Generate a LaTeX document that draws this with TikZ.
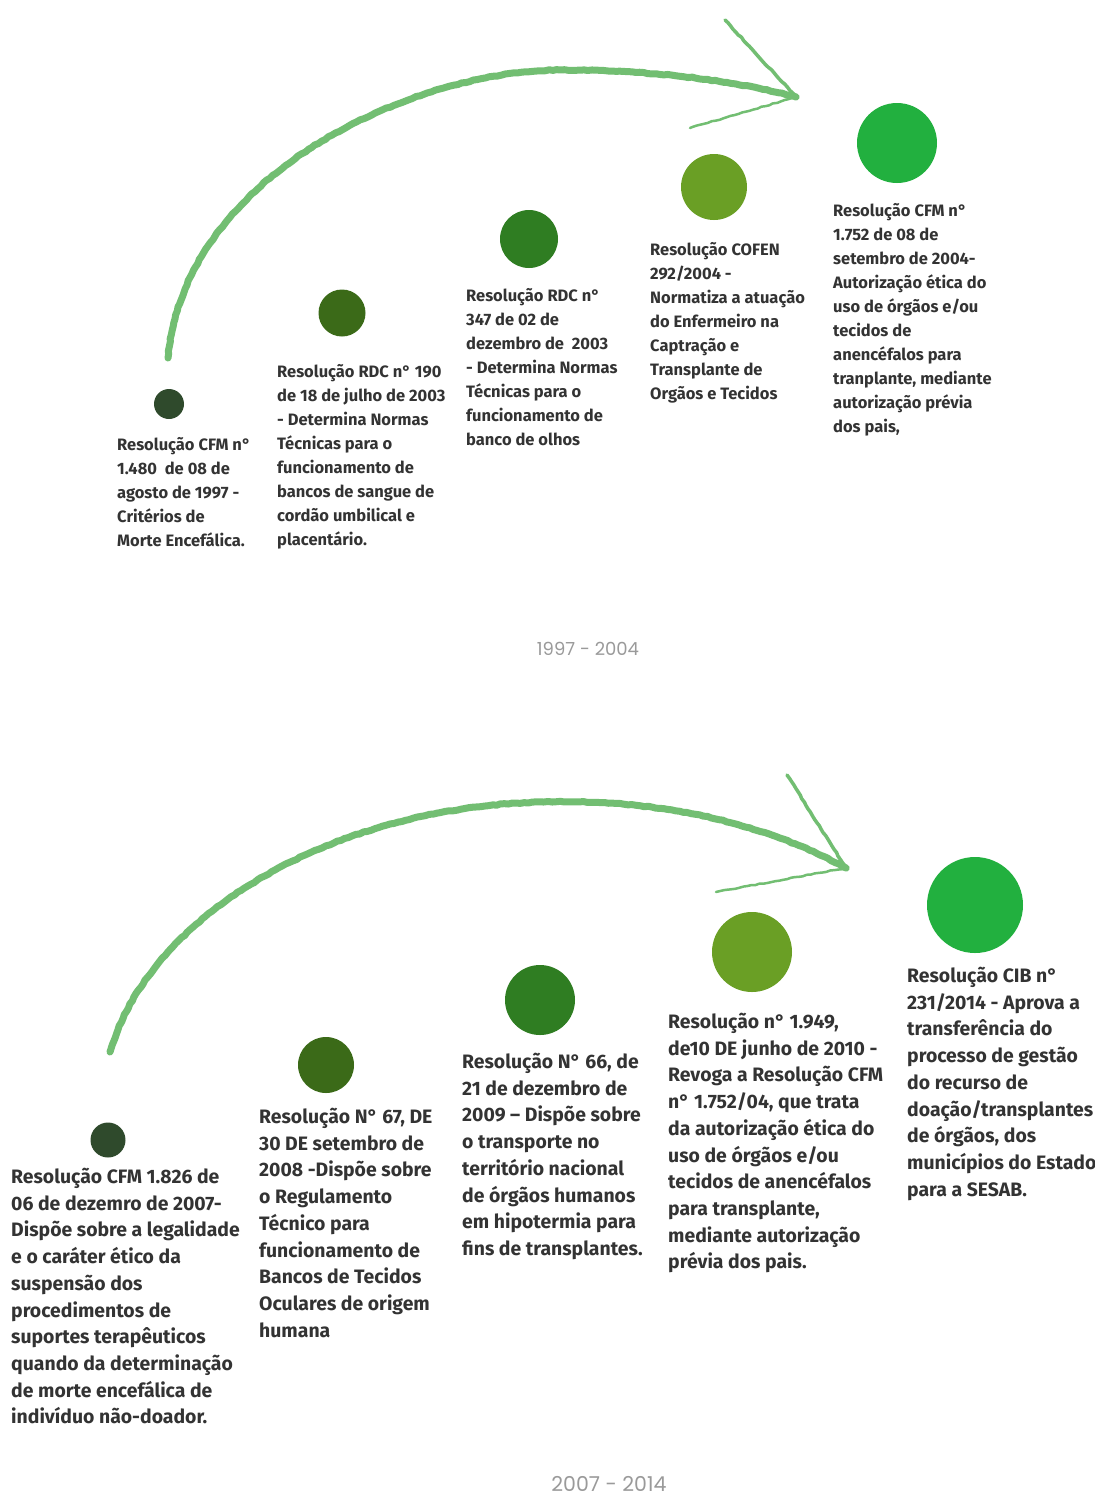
\documentclass[tikz,border=0pt]{standalone}
\usepackage{fontspec}
\setmainfont{Fira Sans}
\newfontfamily\yearfont{Poppins}
\usetikzlibrary{decorations.pathmorphing}
\definecolor{cA}{HTML}{2F4A2C}
\definecolor{cB}{HTML}{3B6A18}
\definecolor{cC}{HTML}{2F7D22}
\definecolor{cD}{HTML}{6A9F25}
\definecolor{cE}{HTML}{22B03F}
\definecolor{arr}{HTML}{72BE72}
\definecolor{txt}{HTML}{333333}
\definecolor{yr}{HTML}{9A9A9A}
\tikzset{
  dot/.style={circle, inner sep=0pt, minimum size=#1, fill=cA},
  toptext/.style={anchor=north west, inner sep=0pt, align=left, text=txt, font=\fontsize{16.5}{24}\selectfont\bfseries},
  bottext/.style={anchor=north west, inner sep=0pt, align=left, text=txt, font=\fontsize{19.4}{26.7}\selectfont\bfseries},
  sketch/.style={draw=arr, line width=#1, line cap=round, line join=round,
    decorate, decoration={random steps, segment length=4pt, amplitude=0.5pt}},
  yearlbl/.style={text=yr, inner sep=0pt, font=\yearfont\fontsize{18}{20}\selectfont}
}
\begin{document}
\begin{tikzpicture}[x=1pt,y=-1pt]
\useasboundingbox[fill=white] (0,0) rectangle (1095,1497);

% ---------- top arrow ----------
\coordinate (ta0) at (168,358);
\coordinate (ta1) at (796,97);
\coordinate (tb1) at (725,20);
\coordinate (tb2) at (690,128);
\draw[sketch=7pt] (ta0) .. controls (185,170) and (420,70) .. (560,70)
   .. controls (660,70) and (740,82) .. (ta1);
\draw[sketch=3.5pt] (tb1) -- (ta1);
\draw[sketch=2.5pt] (ta1) -- (tb2);

% ---------- top circles ----------
\node[dot=30pt, fill=cA] (t1) at (169,404) {};
\node[dot=47pt, fill=cB] (t2) at (342,313) {};
\node[dot=58pt, fill=cC] (t3) at (529,239) {};
\node[dot=66pt, fill=cD] (t4) at (714,187) {};
\node[dot=80pt, fill=cE] (t5) at (897,143) {};

\node[toptext] (tt1) at (117,437) {Resolução CFM n°\\1.480\ \ de 08 de\\agosto de 1997 -\\Critérios de\\Morte Encefálica.};
\node[toptext] (tt2) at (277,364) {Resolução RDC n° 190\\de 18 de julho de 2003\\- Determina Normas\\Técnicas para o\\funcionamento de\\bancos de sangue de\\cordão umbilical e\\placentário.};
\node[toptext] (tt3) at (466,288) {Resolução RDC n°\\347 de 02 de\\dezembro de\ \ 2003\\- Determina Normas\\Técnicas para o\\funcionamento de\\banco de olhos};
\node[toptext] (tt4) at (650,242) {Resolução COFEN\\292/2004 -\\Normatiza a atuação\\do Enfermeiro na\\Captração e\\Transplante de\\Orgãos e Tecidos};
\node[toptext] (tt5) at (833,203) {Resolução CFM n°\\1.752 de 08 de\\setembro de 2004-\\Autorização ética do\\uso de órgãos e/ou\\tecidos de\\anencéfalos para\\tranplante, mediante\\autorização prévia\\dos pais,};

\node[yearlbl] (y1) at (588,649) {1997 - 2004};

% ---------- bottom arrow ----------
\coordinate (ba0) at (110,1052);
\coordinate (ba1) at (846,868);
\coordinate (bb1) at (787,775);
\coordinate (bb2) at (716,892);
\draw[sketch=7pt] (ba0) .. controls (150,915) and (330,808) .. (540,802)
   .. controls (680,798) and (780,832) .. (ba1);
\draw[sketch=3.5pt] (bb1) -- (ba1);
\draw[sketch=2.5pt] (ba1) -- (bb2);

% ---------- bottom circles ----------
\node[dot=35pt, fill=cA] (b1) at (108,1140) {};
\node[dot=56pt, fill=cB] (b2) at (326,1065) {};
\node[dot=70pt, fill=cC] (b3) at (540,1000) {};
\node[dot=80pt, fill=cD] (b4) at (752,952) {};
\node[dot=96pt, fill=cE] (b5) at (975,905) {};

\node[bottext] (bt1) at (11,1168) {Resolução CFM 1.826 de\\06 de dezemro de 2007-\\Dispõe sobre a legalidade\\e o caráter ético da\\suspensão dos\\procedimentos de\\suportes terapêuticos\\quando da determinação\\de morte encefálica de\\indivíduo não-doador.};
\node[bottext] (bt2) at (259,1108) {Resolução N° 67, DE\\30 DE setembro de\\2008 -Dispõe sobre\\o Regulamento\\Técnico para\\funcionamento de\\Bancos de Tecidos\\Oculares de origem\\humana};
\node[bottext] (bt3) at (462,1053) {Resolução N° 66, de\\21 de dezembro de\\2009 – Dispõe sobre\\o transporte no\\território nacional\\de órgãos humanos\\em hipotermia para\\fins de transplantes.};
\node[bottext] (bt4) at (668,1013) {Resolução n° 1.949,\\de10 DE junho de 2010 -\\Revoga a Resolução CFM\\n° 1.752/04, que trata\\da autorização ética do\\uso de órgãos e/ou\\tecidos de anencéfalos\\para transplante,\\mediante autorização\\prévia dos pais.};
\node[bottext] (bt5) at (907,967) {Resolução CIB n°\\231/2014 - Aprova a\\transferência do\\processo de gestão\\do recurso de\\doação/transplantes\\de órgãos, dos\\municípios do Estado\\para a SESAB.};

\node[yearlbl, font=\yearfont\fontsize{20.5}{22}\selectfont] (y2) at (609,1484) {2007 - 2014};
\end{tikzpicture}
\end{document}
